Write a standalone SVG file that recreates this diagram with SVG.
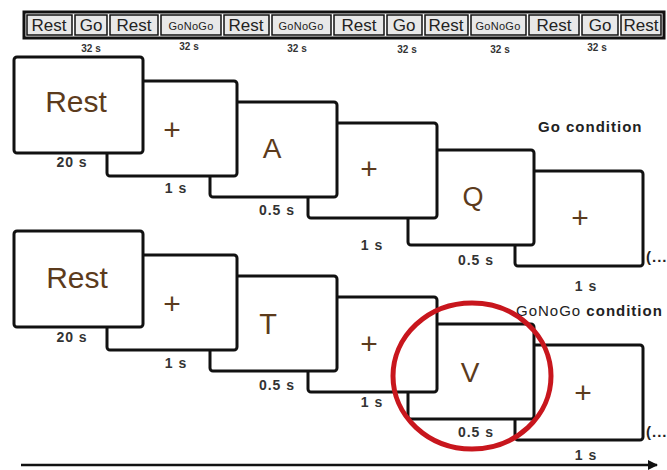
<svg xmlns="http://www.w3.org/2000/svg" width="667" height="470" viewBox="0 0 667 470">
<style>
.fr{fill:#fff;stroke:#111;stroke-width:3;}
.cell{fill:#e8e8e8;stroke:#111;stroke-width:1.5;}
.bt{font-family:"Liberation Sans",Arial,sans-serif;font-size:17px;fill:#222;text-anchor:middle;}
.bs{font-family:"Liberation Sans",Arial,sans-serif;font-size:11px;fill:#222;text-anchor:middle;letter-spacing:0.3px;}
.sec{font-family:"Liberation Sans",Arial,sans-serif;font-size:10px;font-weight:bold;fill:#333;text-anchor:middle;}
.big{font-family:"Liberation Sans",Arial,sans-serif;fill:#5c3b1c;text-anchor:middle;}
.dur{font-family:"Liberation Sans",Arial,sans-serif;font-size:14px;font-weight:bold;fill:#333;text-anchor:middle;letter-spacing:1px;}
.cond{font-family:"Liberation Sans",Arial,sans-serif;font-size:15px;fill:#222;letter-spacing:1px;}
</style>
<defs>
<marker id="ah" markerWidth="10" markerHeight="10" refX="9" refY="5" orient="auto" markerUnits="userSpaceOnUse">
<path d="M0,0 L10,5 L0,10 z" fill="#111"/>
</marker>
</defs>
<rect width="667" height="470" fill="#fff"/>

<g id="blockbar">
<rect x="24" y="12" width="640" height="26" fill="#fff" stroke="#111" stroke-width="3"/>
<rect class="cell" x="27" y="15" width="45" height="20"/>
<rect class="cell" x="75" y="15" width="32" height="20"/>
<rect class="cell" x="110" y="15" width="48" height="20"/>
<rect class="cell" x="161" y="15" width="60" height="20"/>
<rect class="cell" x="224" y="15" width="45" height="20"/>
<rect class="cell" x="272" y="15" width="59" height="20"/>
<rect class="cell" x="334" y="15" width="50" height="20"/>
<rect class="cell" x="387" y="15" width="35" height="20"/>
<rect class="cell" x="425" y="15" width="43" height="20"/>
<rect class="cell" x="471" y="15" width="55" height="20"/>
<rect class="cell" x="529" y="15" width="50" height="20"/>
<rect class="cell" x="582" y="15" width="36" height="20"/>
<rect class="cell" x="621" y="15" width="40" height="20"/>
<text class="bt" x="49" y="31">Rest</text>
<text class="bt" x="91" y="31">Go</text>
<text class="bt" x="134" y="31">Rest</text>
<text class="bs" x="191" y="29.5">GoNoGo</text>
<text class="bt" x="246" y="31">Rest</text>
<text class="bs" x="301" y="29.5">GoNoGo</text>
<text class="bt" x="359" y="31">Rest</text>
<text class="bt" x="404" y="31">Go</text>
<text class="bt" x="446" y="31">Rest</text>
<text class="bs" x="498" y="29.5">GoNoGo</text>
<text class="bt" x="554" y="31">Rest</text>
<text class="bt" x="600" y="31">Go</text>
<text class="bt" x="641" y="31">Rest</text>
<text class="sec" x="91" y="52">32 s</text>
<text class="sec" x="189" y="50">32 s</text>
<text class="sec" x="297" y="52">32 s</text>
<text class="sec" x="407" y="53">32 s</text>
<text class="sec" x="500" y="53">32 s</text>
<text class="sec" x="597" y="51">32 s</text>
</g>

<g id="go-row">
<g id="go-f6"><rect class="fr" x="515" y="171" width="128" height="95" rx="3"/><text class="big" x="580" y="228" font-size="30">+</text></g>
<g id="go-f5"><rect class="fr" x="408" y="150" width="126" height="95" rx="3"/><text class="big" x="473" y="206" font-size="27">Q</text></g>
<g id="go-f4"><rect class="fr" x="308" y="123" width="129" height="95" rx="3"/><text class="big" x="369" y="179" font-size="30">+</text></g>
<g id="go-f3"><rect class="fr" x="210" y="102" width="127" height="95" rx="3"/><text class="big" x="272" y="158" font-size="28">A</text></g>
<g id="go-f2"><rect class="fr" x="107" y="81" width="130" height="95" rx="3"/><text class="big" x="172" y="140" font-size="30">+</text></g>
<g id="go-f1"><rect class="fr" x="14" y="57" width="129" height="96" rx="3"/><text class="big" x="76" y="112" font-size="30">Rest</text></g>
<text class="dur" x="72" y="167">20 s</text>
<text class="dur" x="176" y="193">1 s</text>
<text class="dur" x="277" y="215">0.5 s</text>
<text class="dur" x="372" y="250">1 s</text>
<text class="dur" x="476" y="265">0.5 s</text>
<text class="dur" x="586" y="291">1 s</text>
<text class="cond" x="538" y="132" font-weight="bold">Go condition</text>
<text class="cond" x="646" y="262" font-size="13" font-weight="bold">(...</text>
</g>

<g id="nogo-row">
<g id="ng-f6"><rect class="fr" x="515" y="345" width="128" height="95" rx="3"/><text class="big" x="583" y="403" font-size="30">+</text></g>
<g id="ng-f5"><rect class="fr" x="408" y="324" width="126" height="95" rx="3"/><text class="big" x="470" y="382" font-size="28">V</text></g>
<g id="ng-f4"><rect class="fr" x="308" y="297" width="129" height="95" rx="3"/><text class="big" x="369" y="354" font-size="30">+</text></g>
<g id="ng-f3"><rect class="fr" x="210" y="276" width="127" height="95" rx="3"/><text class="big" x="268" y="334" font-size="29">T</text></g>
<g id="ng-f2"><rect class="fr" x="107" y="255" width="130" height="95" rx="3"/><text class="big" x="172" y="314" font-size="30">+</text></g>
<g id="ng-f1"><rect class="fr" x="14" y="231" width="129" height="96" rx="3"/><text class="big" x="77" y="288" font-size="30">Rest</text></g>
<text class="dur" x="72" y="342">20 s</text>
<text class="dur" x="176" y="368">1 s</text>
<text class="dur" x="277" y="390">0.5 s</text>
<text class="dur" x="372" y="407">1 s</text>
<text class="dur" x="476" y="437">0.5 s</text>
<text class="dur" x="586" y="460">1 s</text>
<text class="cond" x="516" y="316"><tspan>GoNoGo</tspan><tspan font-weight="bold"> condition</tspan></text>
<text class="cond" x="646" y="437" font-size="13" font-weight="bold">(...</text>
<ellipse id="highlight" cx="472" cy="376" rx="79" ry="73" fill="none" stroke="#c8161d" stroke-width="5"/>
</g>

<g id="connectors">
<line x1="21" y1="465" x2="657" y2="465" stroke="#111" stroke-width="2.5" marker-end="url(#ah)"/>
</g>
</svg>
